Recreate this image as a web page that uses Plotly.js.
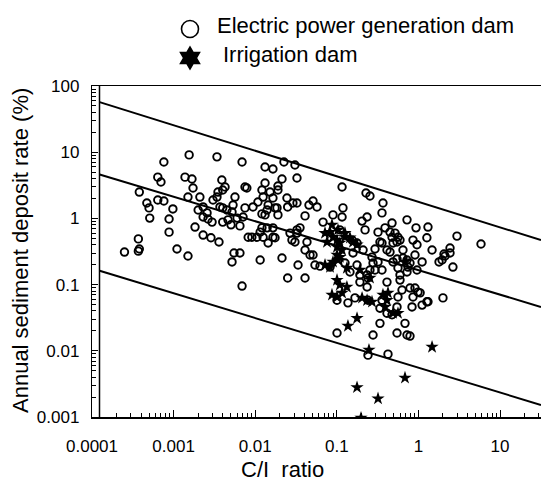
<!DOCTYPE html>
<html>
<head>
<meta charset="utf-8">
<script src="https://cdn.plot.ly/plotly-3.0.1.min.js"></script>
<style>html,body{margin:0;padding:0;background:#fff;}#chart{width:541px;height:482px;}</style>
</head>
<body>
<div id="chart"></div>
<script>
// ---- data ----
const powerX = [
0.00025,0.00037,0.00037,0.00038,0.00038,0.00047,0.0005,0.00051,0.00064,0.00076,
0.00076,0.00064,0.0007,0.00098,0.00088,0.00088,0.0011,0.0015,0.00155,0.00138,
0.0015,0.00168,0.00173,0.00183,0.0021,0.002,0.0023,0.0023,0.00257,0.00264,
0.00296,0.0023,0.00287,0.0036,0.0034,0.00304,0.0034,0.0035,0.0039,0.004,
0.00427,0.0037,0.004,0.0045,0.00464,0.0052,0.00535,0.00565,0.006,0.0065,
0.0069,0.0071,0.0075,0.0079,0.0075,0.0082,0.0091,0.0105,0.0094,0.0108,
0.0125,0.0121,0.0132,0.0165,0.0121,0.014,0.0144,0.0121,0.014,0.0165,
0.0185,0.019,0.019,0.0213,0.0225,0.0245,0.025,0.0307,0.0325,0.0325,
0.0325,0.0267,0.0165,0.00505,0.0052,0.0055,0.0065,0.0069,0.004,0.0132,
0.019,0.0152,0.0165,0.029,0.0456,0.0511,0.0175,0.0132,0.116,0.228,
0.255,0.368,0.358,0.119,0.116,0.204,0.235,0.475,0.725,0.39,
0.517,0.562,0.32,0.222,0.338,0.412,0.489,0.595,0.859,0.935,
1.27,1.31,0.961,0.647,0.908,0.547,0.725,1.47,2.12,2.44,
2.44,1.95,2.65,2.97,0.294,0.27,0.32,0.294,0.241,0.562,
0.595,0.725,0.961,0.0115,0.0115,0.0213,0.0335,0.025,0.0408,0.054,
0.0622,0.0826,0.177,0.145,0.192,0.192,0.235,0.412,0.0125,0.0144,
0.0175,0.0282,0.0325,0.0354,0.0431,0.0408,0.047,0.109,0.154,0.21,
0.158,0.0572,0.449,0.475,0.547,0.449,0.358,0.177,0.0898,0.0678,
0.0408,0.0307,0.0511,0.126,0.255,0.278,0.358,0.235,0.489,0.647,
0.789,0.746,1.11,0.595,0.789,0.908,0.859,0.989,1.27,1.11,
0.835,0.63,0.562,0.547,0.358,0.338,0.412,0.475,0.167,0.241,
0.338,0.685,0.547,0.725,0.278,0.1006,0.424,0.241,0.1006,0.137,
0.789,2.06,1.79,5.85,1.05,1.31,2.0
];
const powerY = [
0.31,0.49,0.32,0.345,2.5,1.71,1.44,1.01,1.9,1.83,
7.1,4.2,3.55,1.39,0.98,0.62,0.345,0.27,9.1,4.2,
2.1,3.94,2.88,0.74,2.1,1.34,1.49,1.05,1.21,0.98,
0.88,0.56,0.51,0.44,8.5,1.9,2.1,2.5,3.8,2.69,
2.98,1.49,1.44,1.34,0.95,1.25,1.59,2.1,1.01,0.77,
7.1,1.05,2.98,2.88,1.44,0.52,0.52,0.52,1.49,1.77,
2.1,2.69,5.98,5.57,1.17,1.34,1.59,0.72,0.72,0.72,
1.44,2.69,1.13,3.94,7.1,2.03,1.49,6.4,4.08,1.71,
0.6,0.6,0.52,0.8,0.22,0.3,0.3,0.095,0.88,3.42,
3.09,2.5,2.03,1.71,1.59,1.83,1.44,1.13,2.98,2.42,
2.18,1.71,1.21,1.44,1.05,0.91,1.05,0.85,0.95,0.72,
0.6,0.52,0.62,0.67,0.44,0.333,0.425,0.47,0.47,0.72,
0.51,0.74,0.40,0.333,0.28,0.244,0.235,0.333,0.27,0.357,
0.30,0.235,0.184,0.54,0.345,0.26,0.22,0.166,0.126,0.178,
0.14,0.155,0.166,0.62,0.235,0.252,0.198,0.126,0.126,0.198,
0.19,0.184,0.198,0.155,0.14,0.109,0.14,0.109,0.52,0.425,
0.51,0.47,0.67,0.72,0.44,0.333,0.28,0.67,0.47,0.333,
0.30,1.49,0.62,0.52,0.44,0.31,0.425,0.425,1.13,0.88,
1.09,0.44,0.28,0.212,0.166,0.212,0.166,0.092,0.22,0.252,
0.212,0.184,0.22,0.117,0.089,0.089,0.065,0.077,0.055,0.049,
0.046,0.083,0.065,0.046,0.058,0.044,0.037,0.035,0.063,0.058,
0.026,0.026,0.0186,0.0173,0.0173,0.0186,0.0089,0.0086,0.058,0.053,
0.0167,0.29,0.22,0.41,0.075,0.055,0.063
];
const irrigationX = [
0.0826,0.0898,0.1006,0.109,0.126,0.145,0.158,0.177,0.1035,0.0717,
0.0759,0.1006,0.116,0.1006,0.0898,0.1035,0.0826,0.0717,0.133,0.192,
0.255,0.1006,0.109,0.133,0.0873,0.1006,0.116,0.204,0.235,0.27,
0.368,0.424,0.412,0.39,0.489,0.562,0.685,0.177,0.137,0.248,
1.47,0.685,0.177,0.32,0.198,0.0873,0.109,0.126
];
const irrigationY = [
0.62,0.52,0.47,0.425,0.52,0.51,0.44,0.40,0.67,0.60,
0.44,0.37,0.333,0.28,0.22,0.235,0.184,0.198,0.178,0.166,
0.126,0.117,0.099,0.092,0.070,0.065,0.075,0.063,0.058,0.055,
0.070,0.075,0.058,0.046,0.037,0.037,0.22,0.031,0.0237,0.0103,
0.0114,0.0039,0.0028,0.0019,0.00097,0.80,0.26,0.60
];
// envelope lines (start / end)
const lineX   = [0.000124, 31.8];
const upperY  = [57, 0.47];
const middleY = [4.6, 0.046];
const lowerY  = [0.162, 0.00152];
// tick labels
const xTickVals = [0.0001, 0.001, 0.01, 0.1, 1, 10];
const xTickText = ['0.0001', '0.001', '0.01', '0.1', '1', '10'];
const yTickVals = [0.001, 0.01, 0.1, 1, 10, 100];
const yTickText = ['0.001', '0.01', '0.1', '1', '10', '100'];
const powerName = 'Electric power generation dam';
const irrigationName = 'Irrigation dam';
const xTitle = 'C/I\u00a0 ratio';
const yTitle = 'Annual sediment deposit rate (%)';

// ---- minor ticks for log axes ----
function minorTicks(lo, hi) {
  const out = [];
  for (let k = lo; k <= hi; k++) {
    for (let m = 2; m <= 9; m++) out.push(m * Math.pow(10, k));
  }
  return out;
}

const W = 541, H = 482;
const FONT = '"Liberation Sans", Arial, Helvetica, sans-serif';
const px = v => v / W;
const py = v => 1 - v / H;

const lineStyle = {color: '#000', width: 2};
const traces = [
  {x: lineX, y: upperY, mode: 'lines', line: lineStyle, hoverinfo: 'skip', showlegend: false},
  {x: lineX, y: middleY, mode: 'lines', line: lineStyle, hoverinfo: 'skip', showlegend: false},
  {x: lineX, y: lowerY, mode: 'lines', line: lineStyle, hoverinfo: 'skip', showlegend: false},
  {x: powerX, y: powerY, mode: 'markers', name: powerName,
   marker: {symbol: 'circle-open', size: 7.5, color: '#000', line: {width: 1.9, color: '#000'}}},
  {x: irrigationX, y: irrigationY, mode: 'markers', name: irrigationName,
   marker: {symbol: 'star', size: 10, color: '#000', line: {width: 0}}},
  // legend symbols (drawn on an overlay in pixel units)
  {x: [190], y: [29], xaxis: 'x2', yaxis: 'y2', mode: 'markers', hoverinfo: 'skip', cliponaxis: false,
   marker: {symbol: 'circle-open', size: 17, color: '#000', line: {width: 1.6, color: '#000'}}},
  {x: [190], y: [58], xaxis: 'x2', yaxis: 'y2', mode: 'markers', hoverinfo: 'skip', cliponaxis: false,
   marker: {symbol: 'hexagram', size: 19, color: '#000', line: {width: 0}}}
];

const tickFont = {family: FONT, size: 17, color: '#000'};
const layout = {
  width: W, height: H,
  margin: {l: 0, r: 0, t: 0, b: 0, pad: 0},
  paper_bgcolor: '#fff', plot_bgcolor: 'rgba(0,0,0,0)',
  showlegend: false,
  font: {family: FONT, color: '#000'},
  xaxis: {
    type: 'log', range: [-4, 1.5025], domain: [px(92), 1], anchor: 'y',
    showline: true, linecolor: '#000', linewidth: 1.5, mirror: true,
    showgrid: false, zeroline: false,
    ticks: 'inside', ticklen: 7, tickwidth: 1, tickcolor: '#000',
    tickmode: 'array', tickvals: xTickVals, ticktext: xTickText,
    tickfont: tickFont, ticklabelstandoff: 13,
    minor: {ticks: 'inside', ticklen: 4, tickwidth: 1, tickcolor: '#000',
            tickmode: 'array', tickvals: minorTicks(-4, 1), showgrid: false}
  },
  yaxis: {
    type: 'log', range: [-3, 2], domain: [py(417), py(86)], anchor: 'x',
    showline: true, linecolor: '#000', linewidth: 1.2,
    showgrid: false, zeroline: false,
    ticks: 'inside', ticklen: 6, tickwidth: 1, tickcolor: '#000',
    tickmode: 'array', tickvals: yTickVals, ticktext: yTickText,
    tickfont: tickFont, ticklabelstandoff: 8,
    minor: {ticks: 'inside', ticklen: 4, tickwidth: 1, tickcolor: '#000',
            tickmode: 'array', tickvals: minorTicks(-3, 1), showgrid: false}
  },
  xaxis2: {domain: [0, 1], range: [0, W], anchor: 'y2', visible: false, fixedrange: true},
  yaxis2: {domain: [0, 1], range: [H, 0], anchor: 'x2', visible: false, fixedrange: true},
  shapes: [
    {type: 'line', xref: 'paper', yref: 'paper', x0: px(99.5), x1: px(99.5), y0: py(417), y1: py(86),
     line: {color: '#000', width: 1.5}}
  ],
  annotations: [
    {text: powerName, xref: 'paper', yref: 'paper', x: px(215), y: py(25), xanchor: 'left', yanchor: 'middle',
     showarrow: false, font: {family: FONT, size: 22, color: '#000'}},
    {text: irrigationName, xref: 'paper', yref: 'paper', x: px(221), y: py(54), xanchor: 'left', yanchor: 'middle',
     showarrow: false, font: {family: FONT, size: 22, color: '#000'}},
    {text: xTitle, xref: 'paper', yref: 'paper', x: px(282), y: py(469), xanchor: 'center', yanchor: 'middle',
     showarrow: false, font: {family: FONT, size: 22, color: '#000'}},
    {text: yTitle, xref: 'paper', yref: 'paper', x: px(20), y: py(251), xanchor: 'center', yanchor: 'middle',
     textangle: -90, showarrow: false, font: {family: FONT, size: 22, color: '#000'}}
  ]
};

Plotly.newPlot('chart', traces, layout, {displayModeBar: false, staticPlot: true});
</script>
</body>
</html>
